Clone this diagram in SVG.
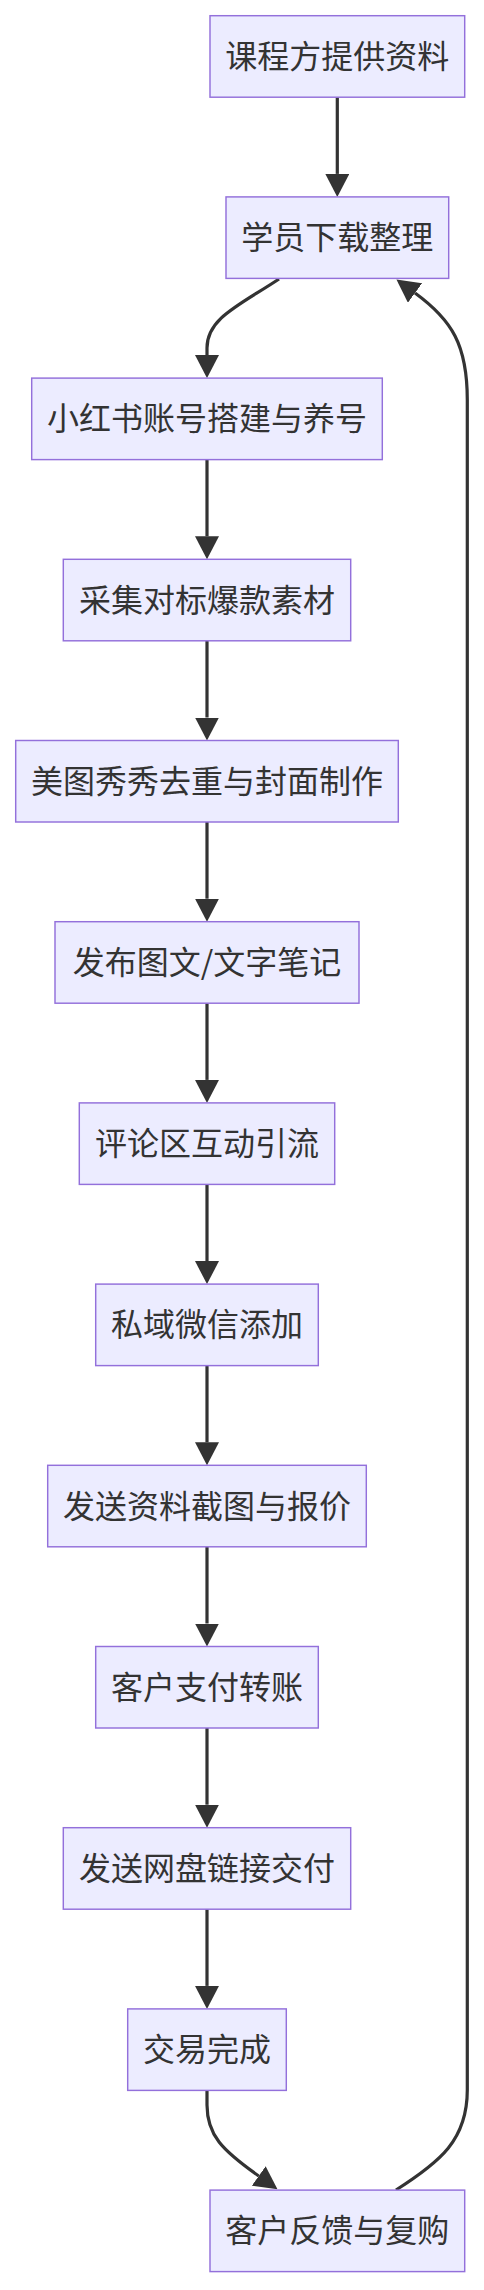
<svg xmlns="http://www.w3.org/2000/svg" width="484" height="2290" viewBox="0 0 484 2290">
<style>
.node rect{fill:#ECECFF;stroke:#9370DB;stroke-width:1.45}
.node text{font-family:"Noto Sans CJK SC","Noto Sans",sans-serif;font-size:32px;fill:#333;text-anchor:middle}
.edge{fill:none;stroke:#333;stroke-width:3.2;marker-end:url(#arrow)}
</style>
<defs>
<marker id="arrow" viewBox="0 0 10 10" refX="0" refY="5" markerUnits="userSpaceOnUse" markerWidth="23" markerHeight="24" preserveAspectRatio="none" orient="auto">
<path d="M0,0 L10,5 L0,10 z" fill="#333"/>
</marker>
</defs>
<rect width="484" height="2290" fill="#fff"/>
<g id="connectors">
<path class="edge" d="M337.3,97.2 L337.3,173.9"/>
<path class="edge" d="M279,279 C240,305 207,318 207,348 L207,355.1"/>
<path class="edge" d="M207,459.6 L207,536.3"/>
<path class="edge" d="M207,640.8 L207,717.5"/>
<path class="edge" d="M207,822 L207,898.7"/>
<path class="edge" d="M207,1003.2 L207,1079.9"/>
<path class="edge" d="M207,1184.4 L207,1261.1"/>
<path class="edge" d="M207,1365.6 L207,1442.3"/>
<path class="edge" d="M207,1546.8 L207,1623.5"/>
<path class="edge" d="M207,1728 L207,1804.7"/>
<path class="edge" d="M207,1909.2 L207,1985.9"/>
<path class="edge" d="M207,2090.4 L207,2105 C207,2135 222,2150 258.7,2176"/>
<path class="edge" d="M396,2190 C440,2162 467.3,2140 467.3,2090 L467.3,400 C467.3,345 452,320 415,293"/>
</g>
<g id="n0" class="node"><rect x="210" y="15.7" width="254.7" height="81.5"/><text x="337.3" y="68">课程方提供资料</text></g>
<g id="n1" class="node"><rect x="226" y="196.9" width="222.7" height="81.5"/><text x="337.3" y="249.2">学员下载整理</text></g>
<g id="n2" class="node"><rect x="31.7" y="378.1" width="350.6" height="81.5"/><text x="207" y="430.4">小红书账号搭建与养号</text></g>
<g id="n3" class="node"><rect x="63.3" y="559.3" width="287.4" height="81.5"/><text x="207" y="611.6">采集对标爆款素材</text></g>
<g id="n4" class="node"><rect x="15.7" y="740.5" width="382.6" height="81.5"/><text x="207" y="792.8">美图秀秀去重与封面制作</text></g>
<g id="n5" class="node"><rect x="55" y="921.7" width="304" height="81.5"/><text x="207" y="974">发布图文/文字笔记</text></g>
<g id="n6" class="node"><rect x="79.3" y="1102.9" width="255.4" height="81.5"/><text x="207" y="1155.2">评论区互动引流</text></g>
<g id="n7" class="node"><rect x="95.7" y="1284.1" width="222.6" height="81.5"/><text x="207" y="1336.4">私域微信添加</text></g>
<g id="n8" class="node"><rect x="47.7" y="1465.3" width="318.6" height="81.5"/><text x="207" y="1517.6">发送资料截图与报价</text></g>
<g id="n9" class="node"><rect x="95.7" y="1646.5" width="222.6" height="81.5"/><text x="207" y="1698.8">客户支付转账</text></g>
<g id="n10" class="node"><rect x="63.3" y="1827.7" width="287.4" height="81.5"/><text x="207" y="1880">发送网盘链接交付</text></g>
<g id="n11" class="node"><rect x="127.7" y="2008.9" width="158.6" height="81.5"/><text x="207" y="2061.2">交易完成</text></g>
<g id="n12" class="node"><rect x="210" y="2190.1" width="254.7" height="81.5"/><text x="337.3" y="2242.4">客户反馈与复购</text></g>
</svg>
